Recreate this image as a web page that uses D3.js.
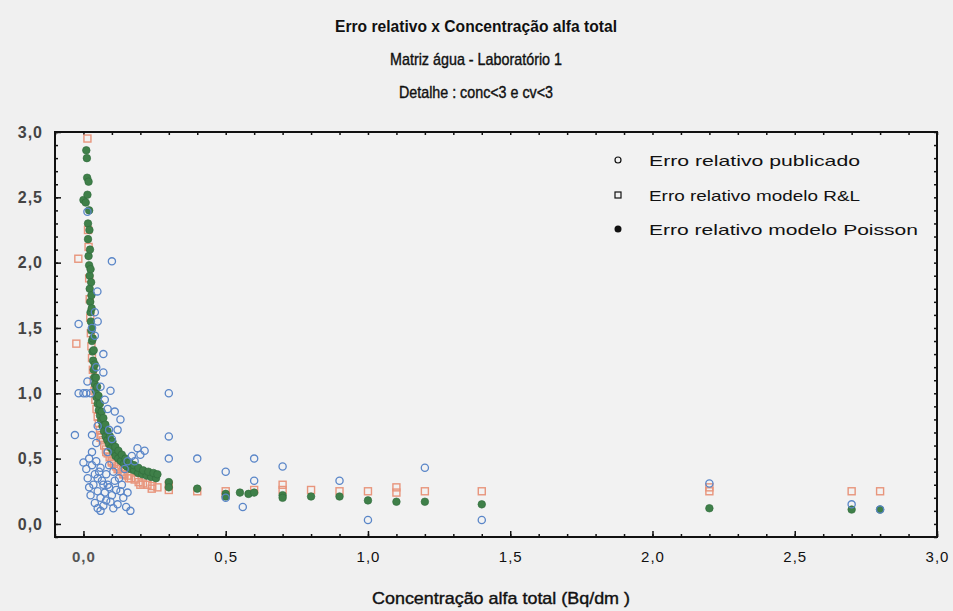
<!DOCTYPE html>
<html>
<head>
<meta charset="utf-8">
<script src="https://cdn.jsdelivr.net/npm/d3@7/dist/d3.min.js"></script>
<style>
  html, body { margin: 0; padding: 0; background: #f0f0f0; }
  svg { display: block; }
</style>
</head>
<body>
<svg id="chart" width="953" height="611"></svg>
<script>
// Relative error vs. total alpha concentration, water matrix, laboratory 1
const titleLines = ["Erro relativo x Concentração alfa total", "Matriz água - Laboratório 1", "Detalhe : conc<3 e cv<3"];
const xAxisTitle = "Concentração alfa total (Bq/dm )";
const seriesNames = ["Erro relativo publicado", "Erro relativo modelo R&L", "Erro relativo modelo Poisson"];

const xMajorTicks = [0, 0.5, 1.0, 1.5, 2.0, 2.5, 3.0];
const yMajorTicks = [0, 0.5, 1.0, 1.5, 2.0, 2.5, 3.0];
const xTickLabels = ["0,0", "0,5", "1,0", "1,5", "2,0", "2,5", "3,0"];
const yTickLabels = ["0,0", "0,5", "1,0", "1,5", "2,0", "2,5", "3,0"];

// Published relative error: [concentration, relative error]
const publicado = [
  [0.014, 2.39], [0.049, 1.78], [0.100, 2.01], [-0.017, 1.53], [0.030, 1.50], [0.040, 1.44],
  [0.040, 1.62], [0.050, 1.55], [0.045, 1.20], [0.060, 1.05], [0.075, 0.95], [0.085, 0.88],
  [0.070, 1.30], [0.070, 1.16], [0.014, 1.09], [-0.017, 1.00], [0.000, 1.00], [0.010, 1.00],
  [0.025, 1.00], [0.095, 1.02], [0.110, 0.86], [0.120, 0.72], [0.130, 0.80], [0.190, 0.58],
  [0.200, 0.53], [0.215, 0.56], [-0.030, 0.68], [0.030, 0.68], [0.000, 0.47], [0.010, 0.42],
  [0.020, 0.50], [0.030, 0.45], [0.040, 0.38], [0.035, 0.30], [0.050, 0.35], [0.060, 0.43],
  [0.050, 0.25], [0.060, 0.20], [0.070, 0.30], [0.080, 0.38], [0.090, 0.28], [0.080, 0.18],
  [0.070, 0.14], [0.050, 0.12], [0.100, 0.22], [0.110, 0.33], [0.120, 0.15], [0.130, 0.25],
  [0.140, 0.20], [0.150, 0.13], [0.165, 0.10], [0.040, 0.16], [0.090, 0.45], [0.025, 0.22],
  [0.015, 0.35], [0.020, 0.28], [0.045, 0.48], [0.055, 0.40], [0.065, 0.33], [0.075, 0.24],
  [0.085, 0.30], [0.095, 0.17], [0.105, 0.40], [0.115, 0.26], [0.125, 0.35], [0.135, 0.30],
  [0.145, 0.42], [0.155, 0.24], [0.060, 0.10], [0.030, 0.55], [0.155, 0.48], [0.170, 0.52],
  [0.180, 0.48], [0.105, 0.12], [0.085, 0.55], [0.045, 0.62], [0.050, 0.75], [0.090, 0.72],
  [0.100, 0.65],
  [0.300, 1.00], [0.300, 0.67], [0.300, 0.50], [0.400, 0.50], [0.500, 0.40], [0.500, 0.20],
  [0.560, 0.13], [0.600, 0.50], [0.600, 0.33], [0.700, 0.44], [0.900, 0.33], [1.000, 0.03],
  [1.200, 0.43], [1.400, 0.03], [2.200, 0.31], [2.700, 0.15], [2.800, 0.11]
];

// Relative error, R&L model
const modeloRL = [
  [0.014, 2.95], [0.016, 2.25], [0.018, 2.12], [-0.018, 2.03], [-0.025, 1.38], [0.020, 1.88],
  [0.022, 1.72], [0.024, 1.58], [0.026, 1.46], [0.028, 1.36], [0.030, 1.27], [0.033, 1.18],
  [0.036, 1.10], [0.039, 1.02], [0.042, 0.95], [0.046, 0.88], [0.050, 0.82], [0.054, 0.77],
  [0.058, 0.72], [0.063, 0.68], [0.068, 0.64], [0.073, 0.60], [0.079, 0.57], [0.085, 0.54],
  [0.092, 0.51], [0.099, 0.48], [0.107, 0.46], [0.115, 0.44], [0.124, 0.42], [0.134, 0.40],
  [0.144, 0.38], [0.155, 0.37], [0.167, 0.35], [0.180, 0.34], [0.194, 0.32], [0.209, 0.31],
  [0.225, 0.30], [0.242, 0.29], [0.260, 0.28],
  [0.060, 0.66], [0.080, 0.55], [0.100, 0.47], [0.120, 0.42], [0.140, 0.38], [0.160, 0.35],
  [0.200, 0.30], [0.240, 0.27],
  [0.300, 0.30], [0.300, 0.26], [0.400, 0.25], [0.500, 0.25], [0.500, 0.22], [0.600, 0.26],
  [0.700, 0.30], [0.700, 0.26], [0.800, 0.26], [0.900, 0.25], [1.000, 0.25], [1.100, 0.28],
  [1.100, 0.24], [1.200, 0.25], [1.400, 0.25], [2.200, 0.25], [2.200, 0.28], [2.700, 0.25],
  [2.800, 0.25]
];

// Relative error, Poisson model
const modeloPoisson = [
  [0.010, 2.86], [0.012, 2.80], [0.013, 2.65], [0.000, 2.48], [0.014, 2.52], [0.008, 2.46],
  [0.016, 2.30], [0.016, 2.18], [0.018, 2.05], [0.020, 1.98], [0.022, 1.90], [0.022, 1.80],
  [0.024, 1.70], [0.025, 1.62], [0.026, 1.55], [0.028, 1.48], [0.030, 1.40], [0.032, 1.32],
  [0.034, 1.25], [0.036, 1.18], [0.038, 1.12], [0.040, 1.07], [0.043, 1.02], [0.046, 0.97],
  [0.050, 0.92], [0.054, 0.87], [0.058, 0.83], [0.062, 0.79], [0.067, 0.75], [0.072, 0.71],
  [0.078, 0.67], [0.084, 0.64], [0.090, 0.61], [0.097, 0.58], [0.105, 0.55], [0.113, 0.52],
  [0.122, 0.50], [0.132, 0.48], [0.142, 0.46], [0.152, 0.44], [0.165, 0.42], [0.178, 0.41],
  [0.192, 0.39], [0.207, 0.38], [0.222, 0.37], [0.238, 0.36], [0.255, 0.35],
  [0.018, 2.62], [0.020, 2.40], [0.021, 2.25], [0.023, 2.10], [0.025, 1.95], [0.027, 1.85],
  [0.028, 1.75], [0.029, 1.65], [0.030, 1.50], [0.033, 1.42], [0.036, 1.33], [0.040, 1.22],
  [0.044, 1.12], [0.048, 1.05], [0.053, 0.98], [0.058, 0.92], [0.064, 0.86], [0.070, 0.81],
  [0.077, 0.76], [0.085, 0.71], [0.093, 0.67], [0.102, 0.63], [0.112, 0.59], [0.123, 0.56],
  [0.135, 0.53], [0.148, 0.50], [0.162, 0.47], [0.177, 0.45], [0.193, 0.43], [0.210, 0.41],
  [0.228, 0.40], [0.246, 0.39], [0.260, 0.38],
  [0.300, 0.32], [0.300, 0.28], [0.400, 0.27], [0.500, 0.23], [0.500, 0.21], [0.550, 0.24],
  [0.580, 0.23], [0.600, 0.24], [0.700, 0.22], [0.700, 0.20], [0.800, 0.21], [0.900, 0.21],
  [1.000, 0.18], [1.100, 0.17], [1.200, 0.17], [1.400, 0.15], [2.200, 0.12], [2.700, 0.11],
  [2.800, 0.11]
];

const svg = d3.select("#chart");
const W = 953, H = 611;
const plot = { left: 55, right: 937, top: 132, bottom: 537 };

svg.append("rect").attr("width", W).attr("height", H).attr("fill", "#f0f0f0");

const x = d3.scaleLinear().domain([-0.1, 3.0]).range([plot.left, plot.right]);
const y = d3.scaleLinear().domain([-0.1, 3.0]).range([plot.bottom, plot.top]);

// Titles
const titleFont = "'Liberation Sans Narrow', 'Liberation Sans', Arial, sans-serif";
const titleY = [32, 65, 98];
const titleW = [282, 172, 154];
svg.selectAll("text.title").data(titleLines).join("text")
  .attr("class", "title")
  .attr("x", 476).attr("y", (d, i) => titleY[i])
  .attr("text-anchor", "middle")
  .attr("font-family", titleFont)
  .attr("font-weight", (d, i) => i === 0 ? "bold" : "normal")
  .attr("font-size", 17)
  .attr("textLength", (d, i) => titleW[i])
  .attr("lengthAdjust", "spacingAndGlyphs")
  .attr("fill", "#111")
  .attr("stroke", "#111").attr("stroke-width", (d, i) => i === 0 ? 0 : 0.4)
  .text(d => d);

// Plot area
svg.append("rect")
  .attr("x", plot.left).attr("y", plot.top)
  .attr("width", plot.right - plot.left).attr("height", plot.bottom - plot.top)
  .attr("fill", "#f2f2f2");

const xMinor = d3.range(-1, 31).map(i => i / 10);
const yMinor = d3.range(-1, 31).map(i => i / 10);

function styleAxis(g) {
  g.select(".domain").remove();
  g.selectAll(".tick line").attr("stroke", "#111").attr("stroke-width", 1.5);
}

// Inward ticks on all four sides
svg.append("g").attr("transform", `translate(0,${plot.bottom})`)
  .call(d3.axisBottom(x).tickValues(xMinor).tickSize(-3).tickFormat(""))
  .call(styleAxis);
svg.append("g").attr("transform", `translate(0,${plot.top})`)
  .call(d3.axisTop(x).tickValues(xMinor).tickSize(-3).tickFormat(""))
  .call(styleAxis);
svg.append("g").attr("transform", `translate(${plot.left},0)`)
  .call(d3.axisLeft(y).tickValues(yMinor).tickSize(-3).tickFormat(""))
  .call(styleAxis);
svg.append("g").attr("transform", `translate(${plot.right},0)`)
  .call(d3.axisRight(y).tickValues(yMinor).tickSize(-3).tickFormat(""))
  .call(styleAxis);

const xAxis = svg.append("g").attr("transform", `translate(0,${plot.bottom})`)
  .call(d3.axisBottom(x).tickValues(xMajorTicks).tickSize(-6)
    .tickPadding(14).tickFormat((d, i) => xTickLabels[i]))
  .call(styleAxis);
xAxis.selectAll(".tick text")
  .attr("font-family", "'Liberation Sans', Arial, sans-serif")
  .attr("font-size", 15).attr("letter-spacing", 1).attr("fill", "#111");
xAxis.selectAll(".tick").filter(d => d === 0).select("text")
  .attr("font-weight", "bold").attr("fill", "#555");

const yAxis = svg.append("g").attr("transform", `translate(${plot.left},0)`)
  .call(d3.axisLeft(y).tickValues(yMajorTicks).tickSize(-6)
    .tickPadding(12).tickFormat((d, i) => yTickLabels[i]))
  .call(styleAxis);
yAxis.selectAll(".tick text")
  .attr("font-family", "'Liberation Sans', Arial, sans-serif")
  .attr("font-size", 16).attr("font-weight", "bold").attr("letter-spacing", 1)
  .attr("fill", "#444");

// Frame
svg.append("rect")
  .attr("x", plot.left).attr("y", plot.top)
  .attr("width", plot.right - plot.left).attr("height", plot.bottom - plot.top)
  .attr("fill", "none").attr("stroke", "#111").attr("stroke-width", 2);

// Points
const marks = svg.append("g");
marks.selectAll("rect.rl").data(modeloRL).join("rect")
  .attr("class", "rl")
  .attr("x", d => x(d[0]) - 3.5).attr("y", d => y(d[1]) - 3.5)
  .attr("width", 7).attr("height", 7)
  .attr("fill", "none").attr("stroke", "#e8957c").attr("stroke-width", 1.4);

marks.selectAll("circle.poisson").data(modeloPoisson).join("circle")
  .attr("class", "poisson")
  .attr("cx", d => x(d[0])).attr("cy", d => y(d[1])).attr("r", 3.8)
  .attr("fill", "#3f8049").attr("stroke", "#2f6a3a").attr("stroke-width", 0.6);

marks.selectAll("circle.pub").data(publicado).join("circle")
  .attr("class", "pub")
  .attr("cx", d => x(d[0])).attr("cy", d => y(d[1])).attr("r", 3.6)
  .attr("fill", "none").attr("stroke", "#5a86c8").attr("stroke-width", 1.3);

// Legend
const legendY = [160, 195, 229];
const legendW = [211, 211, 269];
const lg = svg.append("g");
lg.append("circle").attr("cx", 618).attr("cy", legendY[0]).attr("r", 3)
  .attr("fill", "none").attr("stroke", "#111").attr("stroke-width", 1.2);
lg.append("rect").attr("x", 615).attr("y", legendY[1] - 3).attr("width", 6).attr("height", 6)
  .attr("fill", "none").attr("stroke", "#111").attr("stroke-width", 1.2);
lg.append("circle").attr("cx", 618).attr("cy", legendY[2]).attr("r", 3.5).attr("fill", "#111");
lg.selectAll("text").data(seriesNames).join("text")
  .attr("x", 649).attr("y", (d, i) => legendY[i] + 5.5)
  .attr("font-family", "'Liberation Sans', Arial, sans-serif")
  .attr("font-size", 15)
  .attr("textLength", (d, i) => legendW[i])
  .attr("lengthAdjust", "spacingAndGlyphs")
  .attr("fill", "#111")
  .text(d => d);

// X axis title
svg.append("text")
  .attr("x", 501).attr("y", 604)
  .attr("text-anchor", "middle")
  .attr("font-family", titleFont)
  .attr("font-size", 17)
  .attr("textLength", 258)
  .attr("lengthAdjust", "spacingAndGlyphs")
  .attr("fill", "#111")
  .attr("stroke", "#111").attr("stroke-width", 0.4)
  .text(xAxisTitle);
</script>
</body>
</html>
